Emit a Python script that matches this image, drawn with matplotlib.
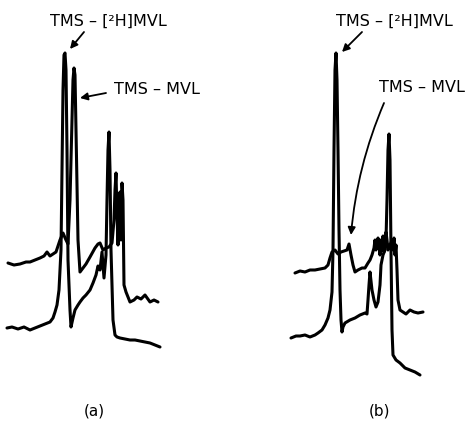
import matplotlib
matplotlib.use("Agg")
import matplotlib.pyplot as plt

# ---- data (x = retention position, y = detector level, image units, y downward) ----
a_upper_x = [8, 14, 20, 26, 30, 35, 40, 44, 47, 50, 53, 56, 60, 63, 66, 68, 70, 72, 73, 74, 75, 76, 78, 80,
             83, 86, 90, 95, 98, 100, 103, 106, 109, 112, 114, 115, 116, 117, 118, 119, 120, 121, 122, 123,
             124, 126, 130, 134, 137, 141, 145, 150, 154, 158]
a_upper_y = [263, 265, 264, 262, 262, 260, 258, 256, 252, 256, 254, 252, 240, 233, 240, 244, 200, 120, 80, 68,
             75, 130, 240, 272, 268, 264, 257, 248, 244, 243, 250, 248, 247, 243, 220, 190, 173, 215, 245, 205,
             192, 240, 183, 200, 285, 292, 302, 300, 297, 299, 295, 302, 300, 302]

a_lower_x = [7, 12, 18, 24, 30, 35, 40, 45, 50, 53, 55, 57, 59, 61, 62, 63, 64, 65, 66, 67, 68, 70, 71, 73, 75,
             78, 80, 83, 86, 90, 93, 96, 98, 100, 102, 104, 106, 107, 108, 109, 110, 111, 113, 115, 117, 120,
             125, 130, 135, 140, 145, 150, 155, 160]
a_lower_y = [328, 327, 329, 327, 330, 328, 326, 324, 322, 318, 312, 305, 290, 250, 170, 90, 55, 53, 70, 150,
             260, 310, 327, 318, 310, 305, 302, 298, 295, 290, 283, 275, 266, 270, 252, 278, 255, 200, 150, 132,
             170, 250, 320, 335, 337, 338, 339, 340, 340, 341, 342, 343, 345, 347]

b_upper_x = [295, 300, 305, 310, 315, 320, 325, 328, 330, 332, 335, 338, 341, 344, 347, 349, 351, 353, 355,
             358, 362, 365, 368, 370, 372, 374, 375, 376, 377, 378, 379, 380, 381, 382, 383, 384, 385, 386,
             387, 388, 390, 392, 393, 394, 395, 396, 397, 398, 400, 403, 406, 410, 414, 418, 423]
b_upper_y = [273, 271, 272, 270, 270, 269, 268, 265, 258, 252, 250, 254, 252, 251, 250, 244, 255, 265, 272,
             270, 268, 268, 263, 260, 255, 248, 240, 250, 246, 238, 245, 255, 240, 250, 236, 252, 245, 232,
             240, 250, 245, 240, 250, 238, 255, 245, 270, 300, 310, 312, 314, 310, 312, 313, 312]

b_lower_x = [291, 296, 300, 305, 310, 315, 318, 322, 325, 328, 330, 332, 333, 334, 335, 336, 337, 338, 339,
             340, 341, 342, 343, 345, 350, 355, 360, 365, 367, 368, 369, 370, 372, 374, 376, 378, 380, 381,
             383, 385, 386, 387, 388, 389, 390, 391, 392, 393, 396, 400, 405, 410, 415, 420]
b_lower_y = [338, 336, 336, 335, 337, 335, 333, 330, 325, 318, 310, 292, 250, 150, 70, 53, 80, 150, 230,
             290, 320, 332, 327, 323, 320, 318, 315, 313, 314, 300, 285, 272, 290, 300, 307, 302, 285, 265,
             255, 250, 240, 200, 150, 134, 160, 250, 330, 355, 360, 363, 368, 370, 372, 375]

label_deut = "TMS – [²H]MVL"
label_mvl = "TMS – MVL"
panel_labels = ["(a)", "(b)"]

# ---- figure ----
fig = plt.figure(figsize=(4.69, 4.26), dpi=100)
ax = fig.add_axes([0, 0, 1, 1])
ax.set_xlim(0, 469)
ax.set_ylim(426, 0)
ax.axis("off")

lw = 2.2
for xs, ys in [(a_upper_x, a_upper_y), (a_lower_x, a_lower_y),
               (b_upper_x, b_upper_y), (b_lower_x, b_lower_y)]:
    ax.plot(xs, ys, color="black", lw=lw, solid_joinstyle="round", solid_capstyle="round")

fs = 11.5
arrow = dict(arrowstyle="-|>", color="black", lw=1.3, mutation_scale=11, shrinkA=0, shrinkB=0)

ax.text(108, 21, label_deut, ha="center", va="center", fontsize=fs)
ax.annotate("", xy=(70, 49), xytext=(84, 32), arrowprops=arrow)
ax.text(157, 90, label_mvl, ha="center", va="center", fontsize=fs)
ax.annotate("", xy=(80, 98), xytext=(106, 93), arrowprops=arrow)

ax.text(394, 21, label_deut, ha="center", va="center", fontsize=fs)
ax.annotate("", xy=(342, 52), xytext=(362, 32), arrowprops=arrow)
ax.text(422, 88, label_mvl, ha="center", va="center", fontsize=fs)
ax.annotate("", xy=(351, 235), xytext=(384, 103),
            arrowprops=dict(arrow, connectionstyle="arc3,rad=0.08"))

ax.text(94, 411, panel_labels[0], ha="center", va="center", fontsize=11)
ax.text(379, 411, panel_labels[1], ha="center", va="center", fontsize=11)

fig.savefig("out.png", dpi=100, facecolor="white")
